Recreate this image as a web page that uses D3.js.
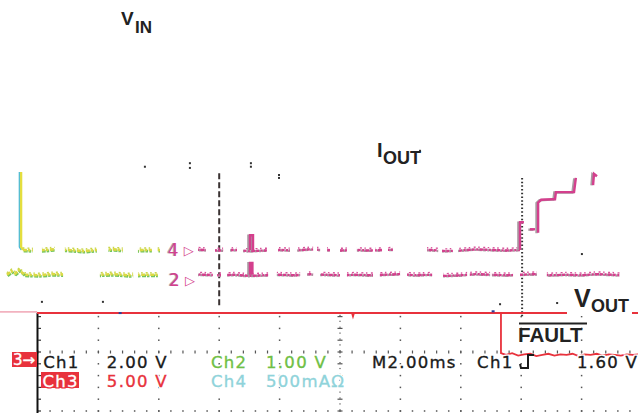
<!DOCTYPE html>
<html>
<head>
<meta charset="utf-8">
<script src="https://cdn.jsdelivr.net/npm/d3@7"></script>
<style>
  html, body { margin: 0; padding: 0; background: #ffffff; }
  svg { display: block; }
</style>
</head>
<body>
<svg id="scope" width="638" height="413"></svg>
<script>
// Horizontal: time in ms (M 2.00 ms/div, 10 divisions, trigger at centre).
// Vertical: screen divisions measured from the centre line.
const timeDomain = [-10, 10];
const divDomain = [-4, 4];

// Ch1 input edge at the very left of the record
const ch1Edge = [[-10.56, 3.05], [-10.56, 1.78], [-10.50, 1.73]];

// Upper trace: flat level before the fault, then the staircase rise
const upperFlat = [
  [-10.5, 1.73], [-10.0, 1.72], [-9.5, 1.74], [-9.0, 1.73], [-8.5, 1.71], [-8.0, 1.73],
  [-7.5, 1.74], [-7.0, 1.72], [-6.5, 1.73], [-6.0, 1.73], [-5.5, 1.72], [-5.0, 1.74],
  [-4.5, 1.73], [-4.0, 1.72], [-3.5, 1.73], [-3.0, 1.71], [-2.5, 1.72], [-2.0, 1.73],
  [-1.5, 1.72], [-1.0, 1.74], [-0.5, 1.73], [0.0, 1.72], [0.5, 1.73], [1.0, 1.72],
  [1.5, 1.73], [2.0, 1.74], [2.5, 1.72], [3.0, 1.73], [3.5, 1.71], [4.0, 1.72],
  [4.5, 1.74], [5.0, 1.73], [5.5, 1.72], [5.96, 1.73]
];
const upperSpike = [[-2.98, 1.73], [-2.98, 1.98], [-2.88, 1.98], [-2.88, 1.73]];
const upperRamp = [
  [[5.96, 1.73], [5.96, 2.20], [6.09, 2.20]],
  [[6.29, 2.08], [6.46, 2.08]],
  [[6.56, 2.02], [6.56, 2.53], [6.66, 2.58], [7.05, 2.59], [7.12, 2.59], [7.15, 2.71],
   [7.75, 2.71], [7.81, 2.95]],
  [[8.38, 2.83], [8.41, 3.02], [8.51, 2.98]]
];
// time windows where the upper trace is lit
const upperGreenRuns = [[-10.53, -10.17], [-9.87, -9.44], [-9.11, -8.05], [-7.68, -7.19],
  [-6.69, -6.23], [-6.06, -5.96]];
const upperPinkRuns = [[-4.70, -4.44], [-4.14, -3.87], [-3.64, -3.41], [-3.21, -2.42],
  [-2.05, -1.66], [-1.42, -0.89], [-0.76, -0.66], [-0.43, -0.33], [0.0, 0.23],
  [0.56, 1.09], [1.16, 1.39], [1.59, 1.75], [2.88, 3.25], [3.38, 3.74], [3.91, 5.96]];

// Lower trace
const lowerHook = [[-11.03, 1.31], [-10.88, 1.37], [-10.75, 1.33], [-10.62, 1.39], [-10.45, 1.31]];
const lowerFlat = [
  [-10.45, 1.31], [-10.0, 1.30], [-9.5, 1.32], [-9.0, 1.31], [-8.5, 1.29], [-8.0, 1.31],
  [-7.5, 1.32], [-7.0, 1.30], [-6.5, 1.31], [-6.0, 1.31], [-5.5, 1.30], [-5.0, 1.32],
  [-4.5, 1.31], [-4.0, 1.30], [-3.5, 1.31], [-3.0, 1.29], [-2.5, 1.30], [-2.0, 1.31],
  [-1.5, 1.30], [-1.0, 1.32], [-0.5, 1.31], [0.0, 1.30], [0.5, 1.31], [1.0, 1.30],
  [1.5, 1.31], [2.0, 1.32], [2.5, 1.30], [3.0, 1.31], [3.5, 1.29], [4.0, 1.30],
  [4.5, 1.32], [5.0, 1.31], [5.5, 1.30], [6.0, 1.31], [6.5, 1.32], [7.0, 1.30],
  [7.5, 1.31], [8.0, 1.30], [8.5, 1.32], [9.0, 1.31], [9.3, 1.30]
];
const lowerSpike = [[-2.98, 1.31], [-2.98, 1.51], [-2.90, 1.51], [-2.90, 1.31]];
const lowerGreenRuns = [[-11.03, -9.17], [-7.95, -6.85], [-6.69, -6.03]];
const lowerPinkRuns = [[-4.70, -4.21], [-4.07, -3.94], [-3.74, -2.38], [-2.09, -1.32],
  [-1.09, -0.89], [-0.66, 0.0], [0.23, 1.09], [1.32, 1.99], [2.22, 3.05], [3.41, 4.21],
  [4.30, 4.97], [5.03, 5.73], [5.96, 6.52], [6.85, 9.27]];

// Marker lines
const dashedMarker = { t: -4.0, from: 3.03, to: 0.75 };
const dottedMarker = { t: 6.03, from: 2.95, to: 0.58 };

// Output level (Ch3 trace) and the FAULT flag dropping after the fault
const voutTrace = [[-10.03, 0.66], [0.40, 0.66], [0.43, 0.61], [0.46, 0.66], [9.87, 0.66]];
const voutLead = [[-11.26, 0.68], [-10.03, 0.68]];
const faultTrace = [
  [-10.03, 0.66], [5.33, 0.66], [5.33, -0.02], [5.5, -0.05], [5.7, -0.02], [5.9, -0.06],
  [6.1, -0.04], [6.3, -0.03], [6.5, -0.07], [6.7, -0.05], [6.9, -0.03], [7.1, -0.06],
  [7.3, -0.04], [7.5, -0.05], [7.7, -0.03], [7.9, -0.07], [8.1, -0.04], [8.3, -0.05],
  [8.5, -0.03], [8.7, -0.06], [8.9, -0.04], [9.1, -0.05], [9.3, -0.06], [9.5, -0.04],
  [9.7, -0.05], [9.87, -0.04]
];

// Stray graticule dots left on the upper screen
const strayDots = [[-6.46, 3.14], [-4.97, 3.20], [-4.97, 3.12], [-2.95, 3.20], [-2.95, 3.14],
  [-2.02, 3.00], [-2.02, 2.95], [-9.87, 0.85], [-7.85, 0.85], [2.65, 3.41], [8.01, 1.66],
  [7.19, 0.83], [5.30, 0.81]];
const blueDots = [[-7.28, 0.66], [5.07, 0.69]];

// Graticule positions
const gridTimes = [-8, -6, -4, -2, 2, 4, 6, 8];
const minorDivs = [0.6, 0.4, 0.2, 0, -0.2, -0.4, -0.6, -0.8, -1.0];

// Readout lines
const readoutRow1 = [
  { text: "Ch1", t: -9.83, color: "#1a1a1a" },
  { text: "2.00 V", t: -7.72, color: "#1a1a1a" },
  { text: "Ch2", t: -4.27, color: "#6fbf45" },
  { text: "1.00 V", t: -2.45, color: "#6fbf45" },
  { text: "M2.00ms", t: 1.06, color: "#1a1a1a" },
  { text: "Ch1", t: 4.54, color: "#1a1a1a" },
  { text: "1.60 V", t: 7.85, color: "#1a1a1a" }
];
const readoutRow2 = [
  { text: "5.00 V", t: -7.72, color: "#e8323c" },
  { text: "Ch4", t: -4.27, color: "#8fd3da" },
  { text: "500mAΩ", t: -2.45, color: "#8fd3da" }
];

const svg = d3.select("#scope");
const x = d3.scaleLinear().domain(timeDomain).range([38, 642]);
const y = d3.scaleLinear().domain(divDomain).range([588, 116]);
const line = d3.line().x(d => x(d[0])).y(d => y(d[1]));

// ---------- graticule ----------
const grat = svg.append("g").attr("fill", "#555");
gridTimes.forEach(t => {
  minorDivs.forEach(d => {
    grat.append("rect").attr("x", x(t) - 0.75).attr("y", y(d) - 0.75)
      .attr("width", 1.5).attr("height", 1.5);
  });
});
const minorTimes = d3.range(0, 51).map(k => -10 + k * 0.4);
minorTimes.forEach(t => {
  // centre horizontal axis ticks
  grat.append("rect").attr("x", x(t) - 0.6).attr("y", y(0) - 1.5)
    .attr("width", 1.2).attr("height", 3);
  // bottom grid row
  grat.append("rect").attr("x", x(t) - 0.75).attr("y", y(-1) - 0.75)
    .attr("width", 1.5).attr("height", 1.5);
});
// centre vertical axis: fine dots plus minor ticks
d3.range(0, 17).map(k => 0.62 - k * 0.1).forEach(d => {
  grat.append("rect").attr("x", x(0) - 0.6).attr("y", y(d) - 0.6)
    .attr("width", 1.2).attr("height", 1.2);
});
minorDivs.forEach(d => {
  grat.append("rect").attr("x", x(0) - 2.5).attr("y", y(d) - 0.6)
    .attr("width", 5).attr("height", 1.2);
});
// left edge with ticks
svg.append("line").attr("x1", x(-10) - 0.5).attr("x2", x(-10) - 0.5)
  .attr("y1", y(0.66)).attr("y2", 413).attr("stroke", "#111").attr("stroke-width", 2);
minorDivs.forEach(d => {
  svg.append("rect").attr("x", x(-10)).attr("y", y(d) - 0.6)
    .attr("width", 3).attr("height", 1.2).attr("fill", "#333");
});

strayDots.forEach(p => {
  svg.append("rect").attr("x", x(p[0]) - 1).attr("y", y(p[1]) - 1)
    .attr("width", 2).attr("height", 2).attr("fill", "#333");
});

// ---------- clip windows for lit trace sections ----------
const defs = svg.append("defs");
function runClip(id, runs) {
  const cp = defs.append("clipPath").attr("id", id);
  runs.forEach(r => {
    cp.append("rect").attr("x", x(r[0])).attr("y", 0)
      .attr("width", Math.max(1, x(r[1]) - x(r[0]))).attr("height", 413);
  });
  return "url(#" + id + ")";
}
const clipUpG = runClip("up-green", upperGreenRuns);
const clipUpP = runClip("up-pink", upperPinkRuns);
const clipLoG = runClip("lo-green", lowerGreenRuns);
const clipLoP = runClip("lo-pink", lowerPinkRuns);

function greenPath(data, clip) {
  const g = svg.append("g");
  if (clip) g.attr("clip-path", clip);
  g.append("path").attr("d", line(data)).attr("fill", "none")
    .attr("stroke", "#72c45e").attr("stroke-width", 2.6)
    .attr("stroke-dasharray", "4,1,2.5,1.5").attr("transform", "translate(0.8,1.2)");
  g.append("path").attr("d", line(data)).attr("fill", "none")
    .attr("stroke", "#dcd944").attr("stroke-width", 2.6)
    .attr("stroke-dasharray", "4,1,2.5,1.5");
  g.append("path").attr("d", line(data)).attr("fill", "none")
    .attr("stroke", "#c8d64a").attr("stroke-width", 1.4)
    .attr("stroke-dasharray", "1.5,3,2,2.5").attr("transform", "translate(0,-2)");
}
function pinkPath(data, clip, dashed) {
  const g = svg.append("g");
  if (clip) g.attr("clip-path", clip);
  const dash = dashed ? "4,1,3,1.5,2,1.2" : null;
  g.append("path").attr("d", line(data)).attr("fill", "none")
    .attr("stroke", "#a89ca2").attr("stroke-width", 2.4)
    .attr("stroke-dasharray", dash)
    .attr("transform", "translate(-1.6,0.4)");
  g.append("path").attr("d", line(data)).attr("fill", "none")
    .attr("stroke", "#d43f8d").attr("stroke-width", 2.4)
    .attr("stroke-dasharray", dash);
  if (dashed) {
    // upper flecks of the smeared trace
    g.append("path").attr("d", line(data)).attr("fill", "none")
      .attr("stroke", "#d8509a").attr("stroke-width", 1.4)
      .attr("stroke-dasharray", "1.5,3.5,2,2.5")
      .attr("transform", "translate(0,-2.2)");
  }
}

// ---------- marker lines ----------
svg.append("line")
  .attr("x1", x(dashedMarker.t)).attr("x2", x(dashedMarker.t))
  .attr("y1", y(dashedMarker.from)).attr("y2", y(dashedMarker.to))
  .attr("stroke", "#3a3232").attr("stroke-width", 2).attr("stroke-dasharray", "6,3");
svg.append("line")
  .attr("x1", x(dottedMarker.t)).attr("x2", x(dottedMarker.t))
  .attr("y1", y(dottedMarker.from)).attr("y2", y(dottedMarker.to))
  .attr("stroke", "#333").attr("stroke-width", 2).attr("stroke-dasharray", "1.5,2.2");

// ---------- Ch1 edge ----------
svg.append("path").attr("d", line(ch1Edge)).attr("fill", "none")
  .attr("stroke", "#45b8e0").attr("stroke-width", 1.6).attr("transform", "translate(-1.6,0)");
svg.append("path").attr("d", line(ch1Edge)).attr("fill", "none")
  .attr("stroke", "#e4de3e").attr("stroke-width", 2.4);

// ---------- upper / lower traces ----------
greenPath(upperFlat, clipUpG);
greenPath(lowerFlat, clipLoG);
greenPath(lowerHook, null);
pinkPath(upperFlat, clipUpP, true);
pinkPath(lowerFlat, clipLoP, true);
pinkPath(upperSpike, null, false);
pinkPath(lowerSpike, null, false);
upperRamp.forEach(seg => pinkPath(seg, null, false));

// channel reference glyphs on the traces
function refGlyph(digit, t, d) {
  const g = svg.append("g").attr("fill", "#d43f8d")
    .attr("font-family", "'DejaVu Sans', sans-serif");
  g.append("text").attr("x", x(t) - 1.4).attr("y", y(d) + 6).attr("font-size", 17)
    .attr("fill", "#b0a4aa").text(digit);
  g.append("text").attr("x", x(t)).attr("y", y(d) + 6).attr("font-size", 17).text(digit);
  g.append("text").attr("x", x(t) + 16).attr("y", y(d) + 5).attr("font-size", 13).text("▷");
}
refGlyph("4", -5.70, 1.73);
refGlyph("2", -5.66, 1.22);

// ---------- output and FAULT traces ----------
svg.append("path").attr("d", line(voutLead)).attr("fill", "none")
  .attr("stroke", "#f2b2bf").attr("stroke-width", 1.6);
svg.append("path").attr("d", line(voutTrace)).attr("fill", "none")
  .attr("stroke", "#e8323c").attr("stroke-width", 2);
svg.append("path").attr("d", line(faultTrace)).attr("fill", "none")
  .attr("stroke", "#e8323c").attr("stroke-width", 1.8);
blueDots.forEach(p => {
  svg.append("rect").attr("x", x(p[0]) - 1.5).attr("y", y(p[1]) - 1)
    .attr("width", 3).attr("height", 2).attr("fill", "#2a3f9a");
});

// ---------- signal labels ----------
const lab = svg.append("g").attr("font-family", "'Liberation Sans', Arial, sans-serif")
  .attr("font-weight", "bold").attr("fill", "#222");
lab.append("text").attr("x", 121).attr("y", 25).attr("font-size", 19).text("V");
lab.append("text").attr("x", 135).attr("y", 33).attr("font-size", 17).text("IN");
lab.append("text").attr("x", 377).attr("y", 157).attr("font-size", 20).text("I");
lab.append("text").attr("x", 383).attr("y", 164).attr("font-size", 18).text("OUT");
lab.append("rect").attr("x", 567).attr("y", 284).attr("width", 65).attr("height", 32)
  .attr("fill", "#fff");
lab.append("text").attr("x", 574).attr("y", 307).attr("font-size", 25).text("V");
lab.append("text").attr("x", 591).attr("y", 312).attr("font-size", 18).text("OUT");
lab.append("text").attr("x", 518).attr("y", 342).attr("font-size", 20.5).text("FAULT");
lab.append("line").attr("x1", 519).attr("x2", 587).attr("y1", 323.5).attr("y2", 323.5)
  .attr("stroke", "#222").attr("stroke-width", 2);

// ---------- readout ----------
const ro = svg.append("g").attr("font-family", "'DejaVu Sans', sans-serif")
  .attr("font-size", 16.5).attr("letter-spacing", 1.3);
function readout(txt, px, py, color, boxed) {
  // white halo keeps graticule dots out of the characters
  ro.append("text").attr("x", px).attr("y", py).attr("fill", "none")
    .attr("stroke", boxed ? "#e8323c" : "#fff").attr("stroke-width", 3).text(txt);
  ro.append("text").attr("x", px).attr("y", py).attr("fill", color)
    .attr("stroke", color).attr("stroke-width", 0.35).text(txt);
}
ro.append("rect").attr("x", 12).attr("y", 352).attr("width", 25).attr("height", 15)
  .attr("fill", "#e8323c");
ro.append("text").attr("x", 13).attr("y", 365).attr("font-size", 15)
  .attr("letter-spacing", 0).attr("fill", "#fff").attr("stroke", "#fff")
  .attr("stroke-width", 0.4).text("3→");
ro.append("rect").attr("x", 41).attr("y", 372).attr("width", 38).attr("height", 16)
  .attr("fill", "#e8323c");
readout("Ch3", 42.5, 387, "#fff", true);
readoutRow1.forEach(r => readout(r.text, x(r.t), 368, r.color, false));
readoutRow2.forEach(r => readout(r.text, x(r.t), 387, r.color, false));
// rising-edge trigger slope icon
svg.append("path").attr("d", "M520,364 L521,368 L528,368 L528,355 L534,355")
  .attr("fill", "none").attr("stroke", "#1a1a1a").attr("stroke-width", 2);
</script>
</body>
</html>
